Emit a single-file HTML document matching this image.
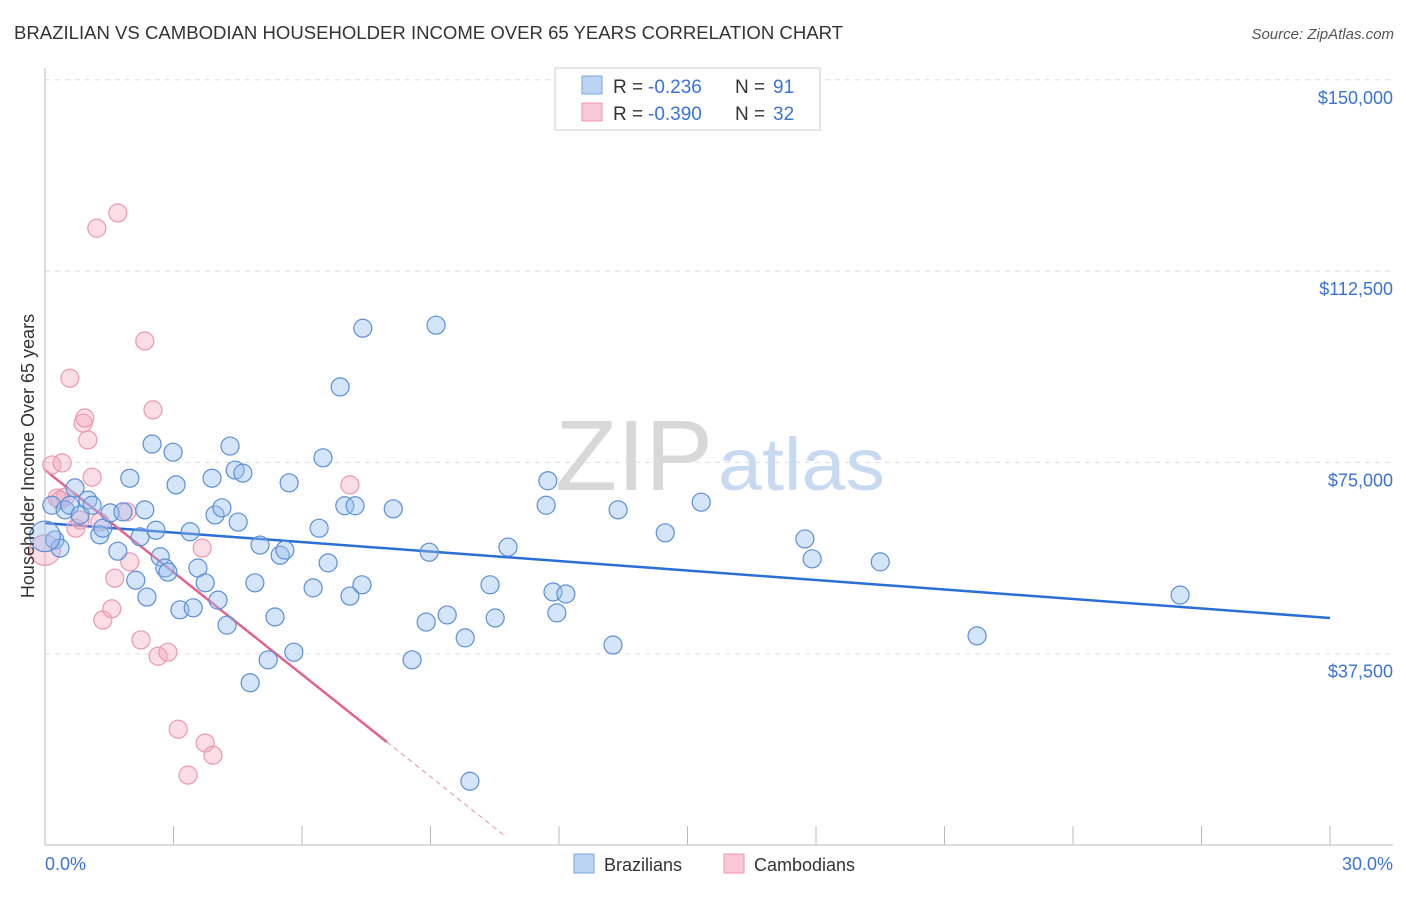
<!DOCTYPE html>
<html><head><meta charset="utf-8"><style>
body{margin:0;background:#fff;font-family:"Liberation Sans",sans-serif}
svg text{font-family:"Liberation Sans",sans-serif}
</style></head><body>
<svg id="chart" width="1406" height="892" xmlns="http://www.w3.org/2000/svg">
<text x="14" y="39" font-size="18" fill="#333" textLength="829" lengthAdjust="spacingAndGlyphs">BRAZILIAN VS CAMBODIAN HOUSEHOLDER INCOME OVER 65 YEARS CORRELATION CHART</text>
<text x="1394" y="39" font-size="15" fill="#555" font-style="italic" text-anchor="end">Source: ZipAtlas.com</text>
<g>
<text x="555" y="490" font-size="100" fill="#d8d8d8" font-family="Liberation Serif" textLength="158" lengthAdjust="spacingAndGlyphs">ZIP</text>
<text x="718" y="490" font-size="74" fill="#c8daf2" textLength="167" lengthAdjust="spacingAndGlyphs">atlas</text>
</g>
<g id="grid"></g>
<g id="axes"></g>
<g id="lines"></g>
<g id="points"></g>
<text transform="translate(34,456) rotate(-90)" font-size="18" fill="#333" text-anchor="middle">Householder Income Over 65 years</text>
<g>
<rect x="555" y="68" width="265" height="62" fill="#fff" stroke="#ccc"/>
<rect x="582" y="76" width="20" height="18" fill="#bcd4f4" stroke="#7aa6e0"/>
<text x="613" y="93" font-size="19" fill="#333">R =</text>
<text x="648" y="93" font-size="19" fill="#3b73d4">-0.236</text>
<text x="735" y="93" font-size="19" fill="#333">N =</text>
<text x="773" y="93" font-size="19" fill="#3b73d4">91</text>
<rect x="582" y="103" width="20" height="18" fill="#f8c8d6" stroke="#eb97b0"/>
<text x="613" y="120" font-size="19" fill="#333">R =</text>
<text x="648" y="120" font-size="19" fill="#3b73d4">-0.390</text>
<text x="735" y="120" font-size="19" fill="#333">N =</text>
<text x="773" y="120" font-size="19" fill="#3b73d4">32</text>
</g>
<g>
<rect x="574" y="854" width="20" height="19" fill="#bcd4f4" stroke="#7aa6e0"/>
<text x="604" y="871" font-size="18" fill="#333">Brazilians</text>
<rect x="724" y="854" width="20" height="19" fill="#f8c8d6" stroke="#eb97b0"/>
<text x="754" y="871" font-size="18" fill="#333">Cambodians</text>
</g>
</svg>
<script>
const yTicks=[37500,75000,112500,150000];
const yTickLabels=["$37,500","$75,000","$112,500","$150,000"];
const xTickVals=[0,3,6,9,12,15,18,21,24,27,30];
const xEndLabels=["0.0%","30.0%"];
const braX=[0.16,0.23,0.35,0.47,0.58,0.70,0.82,1.00,1.10,1.28,1.35,1.52,1.70,1.82,1.98,2.12,2.22,2.33,2.38,2.50,2.59,2.69,2.80,2.87,2.99,3.06,3.15,3.39,3.46,3.57,3.74,3.90,3.97,4.04,4.13,4.25,4.32,4.44,4.51,4.62,4.79,4.90,5.02,5.21,5.37,5.49,5.60,5.70,5.81,6.26,6.40,6.49,6.61,6.89,7.00,7.12,7.24,7.40,7.42,8.13,8.57,8.90,8.97,9.13,9.39,9.81,9.92,10.39,10.51,10.81,11.70,11.74,11.86,11.95,12.16,13.26,13.38,14.48,15.32,17.74,17.91,19.50,21.76,26.50,0.0];
const braY=[66.6,59.8,58.2,65.7,66.6,70.0,64.7,67.6,66.6,60.8,62.1,65.1,57.6,65.3,71.9,51.9,60.4,65.7,48.6,78.6,61.7,56.5,54.3,53.5,77.0,70.6,46.1,61.4,46.5,54.3,51.4,71.9,64.7,48.0,66.1,43.1,78.2,73.5,63.3,72.9,31.8,51.4,58.8,36.3,44.7,56.8,57.8,71.0,37.8,50.4,62.1,75.9,55.3,89.8,66.5,48.8,66.5,51.0,101.3,65.9,36.3,43.7,57.4,101.9,45.1,40.6,12.5,51.0,44.5,58.4,66.6,71.4,49.6,45.5,49.2,39.2,65.7,61.2,67.2,60.0,56.1,55.5,41.0,49.0,60.5];
const braSize=braX.map((v,i)=>i===braX.length-1?1.7:1);
const camX=[0.16,0.28,0.40,0.47,0.58,0.72,0.82,0.89,0.93,1.00,1.10,1.21,1.35,1.56,1.63,1.70,1.91,1.98,2.24,2.33,2.52,2.64,2.87,3.11,3.34,3.67,3.74,3.92,7.12,0.0,0.35,1.28];
const camY=[74.5,68.0,74.9,68.2,91.5,62.1,63.7,82.7,83.7,79.4,72.1,120.9,44.1,46.3,52.3,123.9,65.3,55.5,40.2,98.8,85.3,37.0,37.8,22.7,13.7,58.2,20.0,17.6,70.6,57.8,67.6,63.3];
const camSize=camX.map((v,i)=>i===29?1.7:1);
const braTrend=[63.1,44.5];
const camTrend=[73.5,-6.68];
const camSolidEnd=7.98, camDashEnd=10.7;

const NS="http://www.w3.org/2000/svg";
const X0=45,X1=1330,YB=845,PXK=191.3/37.5;
const sx=v=>X0+(v/30)*(X1-X0);
const sy=v=>YB-v*PXK;
function mk(tag,attrs,parent){const e=document.createElementNS(NS,tag);for(const k in attrs)e.setAttribute(k,attrs[k]);document.getElementById(parent).appendChild(e);return e;}
yTicks.forEach((t,i)=>{
 const l=mk('line',{x1:X0,x2:1393,y1:sy(t/1000),y2:sy(t/1000),stroke:'#ddd','stroke-dasharray':'5,5'},'grid');
 
 
 const tx=mk('text',{x:1393,y:sy(t/1000)+24,'font-size':18,fill:'#3b73d4','text-anchor':'end'},'axes');
 tx.textContent=yTickLabels[i];
 
 
});
const al=mk('line',{x1:X0,x2:X0,y1:68,y2:YB,stroke:'#bbb'},'axes');


const bl=mk('line',{x1:X0,x2:1393,y1:YB,y2:YB,stroke:'#bbb'},'axes');


xTickVals.forEach(v=>{
 const t=mk('line',{x1:sx(v),x2:sx(v),y1:826,y2:YB,stroke:'#bbb'},'axes');
 
 
});
const xl0=mk('text',{x:45,y:870,'font-size':18,fill:'#3b73d4'},'axes');xl0.textContent=xEndLabels[0];


const xl1=mk('text',{x:1393,y:870,'font-size':18,fill:'#3b73d4','text-anchor':'end'},'axes');xl1.textContent=xEndLabels[1];



camX.forEach((x,i)=>{
 const c=mk('circle',{cx:sx(x),cy:sy(camY[i]),r:9*camSize[i],fill:'rgba(244,170,192,0.4)',stroke:'#eb97b0','stroke-width':1.2},'points');
 
 
});
braX.forEach((x,i)=>{
 const c=mk('circle',{cx:sx(x),cy:sy(braY[i]),r:9*braSize[i],fill:'rgba(150,190,240,0.4)',stroke:'#5b8fd6','stroke-width':1.2},'points');
 
 
});
const bt=mk('line',{x1:sx(0),y1:sy(braTrend[0]),x2:sx(30),y2:sy(braTrend[1]),stroke:'#2a6fd6','stroke-width':2.5},'lines');


const ct=mk('line',{x1:sx(0),y1:sy(camTrend[0]),x2:sx(camSolidEnd),y2:sy(camTrend[0]+camTrend[1]*camSolidEnd),stroke:'#e3628d','stroke-width':2.5},'lines');


const cd=mk('line',{x1:sx(camSolidEnd),y1:sy(camTrend[0]+camTrend[1]*camSolidEnd),x2:sx(camDashEnd),y2:sy(camTrend[0]+camTrend[1]*camDashEnd),stroke:'#e3a0b8','stroke-width':1.2,'stroke-dasharray':'5,4'},'lines');


</script>
</body></html>
